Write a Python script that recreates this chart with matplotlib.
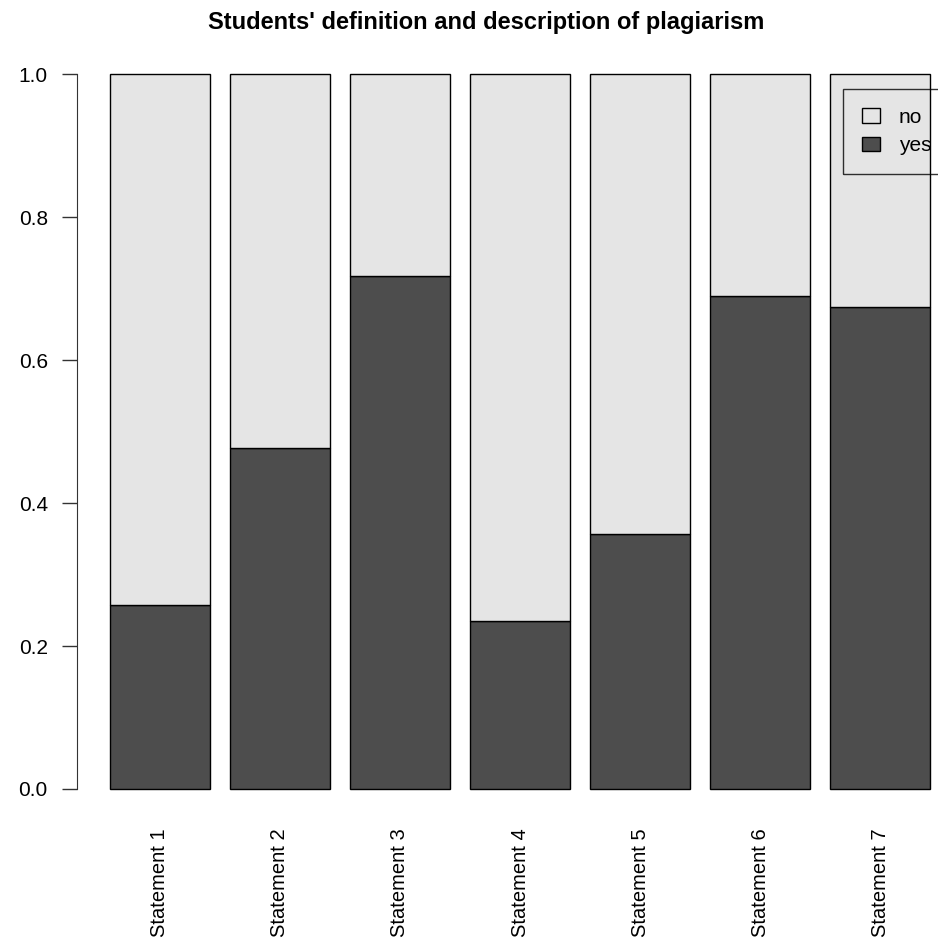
import matplotlib
matplotlib.use("Agg")
import matplotlib.pyplot as plt
from matplotlib.patches import Patch

# --- Data
statements = ["Statement 1", "Statement 2", "Statement 3", "Statement 4",
              "Statement 5", "Statement 6", "Statement 7"]
yes_share = [0.257, 0.477, 0.718, 0.235, 0.357, 0.689, 0.674]
no_share = [1 - v for v in yes_share]

warna_yes = "#4d4d4d"
warna_no = "#e5e5e5"

plt.rcParams["font.family"] = ["Liberation Sans", "DejaVu Sans"]

fig = plt.figure(figsize=(9.38, 9.39), dpi=100)
# plot region follows R's barplot layout (extends a little past the right edge)
ax = fig.add_axes([77 / 938, 1 - 817.6 / 939, 886 / 938, 772.2 / 939])

# R barplot: width 1, space 0.2
posisi = [0.2 + 1.2 * i + 0.5 for i in range(len(statements))]
ax.bar(posisi, yes_share, width=1.0, color=warna_yes, edgecolor="black", linewidth=1)
ax.bar(posisi, no_share, width=1.0, bottom=yes_share, color=warna_no,
       edgecolor="black", linewidth=1)

ax.set_xlim(-0.128, 8.728)
ax.set_ylim(-0.04, 1.04)

for s in ["top", "right", "bottom"]:
    ax.spines[s].set_visible(False)
ax.spines["left"].set_bounds(0, 1)
ax.spines["left"].set_color("#333333")

ax.set_yticks([0, 0.2, 0.4, 0.6, 0.8, 1.0])
ax.set_yticklabels(["0.0", "0.2", "0.4", "0.6", "0.8", "1.0"])
ax.tick_params(axis="y", length=11, width=1, color="#333333", pad=10, labelsize=15)

ax.set_xticks(posisi)
ax.set_xticklabels(statements, rotation=90, fontsize=14.5)
ax.tick_params(axis="x", length=0, pad=8)

fig.text(486 / 938, 1 - 23 / 939, "Students' definition and description of plagiarism",
         ha="center", va="center", fontsize=17, fontweight="bold")

# --- Legend (transparent, square corners, like R)
handles = [Patch(facecolor=warna_no, edgecolor="black", linewidth=1),
           Patch(facecolor=warna_yes, edgecolor="black", linewidth=1)]
leg = ax.legend(handles, ["no", "yes"], loc="upper left",
                bbox_to_anchor=(843 / 938, 1 - 89 / 939), bbox_transform=fig.transFigure,
                fontsize=15, frameon=True, fancybox=False,
                borderpad=0.9, handlelength=0.87, handleheight=0.67,
                labelspacing=0.45, handletextpad=0.9, borderaxespad=0)
leg.get_frame().set_facecolor("none")
leg.get_frame().set_edgecolor("black")
leg.get_frame().set_linewidth(1)

fig.savefig("out.png", dpi=100, facecolor="white")
